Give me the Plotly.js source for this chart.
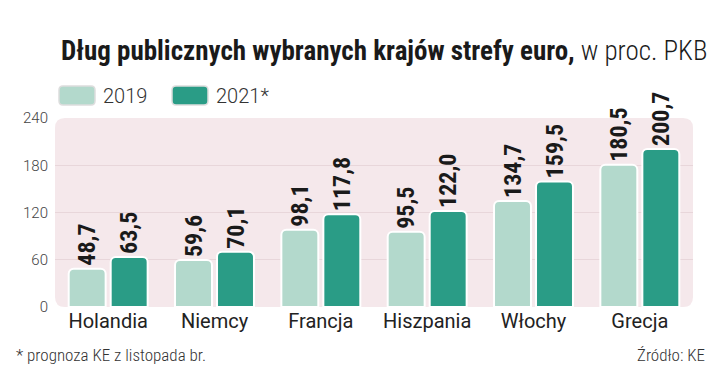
<!DOCTYPE html>
<html>
<head>
<meta charset="utf-8">
<script src="https://cdn.plot.ly/plotly-3.0.1.min.js"></script>
<style>html,body{margin:0;padding:0;background:#fff;}#chart{width:720px;height:383px;}</style>
</head>
<body>
<div id="chart"></div>
<script>
// ---- data ----
const countries = ["Holandia", "Niemcy", "Francja", "Hiszpania", "Włochy", "Grecja"];
const seriesNames = ["2019", "2021*"];
const debt2019 = [48.7, 59.6, 98.1, 95.5, 134.7, 180.5];
const debt2021 = [63.5, 70.1, 117.8, 122.0, 159.5, 200.7];
const yTicks = [0, 60, 120, 180, 240];
const titleBold = "Dług publicznych wybranych krajów strefy euro,";
const titleRest = " w proc. PKB";
const footNote = "* prognoza KE z listopada br.";
const sourceNote = "Źródło: KE";

// ---- layout geometry (pixels) ----
const W = 720, H = 383;
const L = 55, R = 27, T = 118, B = 76;
const PW = W - L - R, PH = H - T - B;
const px2x = p => (p - L) / PW;
const py2y = p => (H - B - p) / PH;

const colors = ["#b3d9cc", "#2a9c86"];
const FONT = "Roboto, 'Liberation Sans', sans-serif";
const COND = "'Roboto Condensed', 'Liberation Sans Narrow', 'DejaVu Sans Condensed', Roboto, sans-serif";

function fmt(v) { return v.toFixed(1).replace(".", ","); }

function roundRect(x0, y0, x1, y1, r) {
  const X = px2x, Y = py2y;
  return "M" + X(x0 + r) + "," + Y(y0) +
    " L" + X(x1 - r) + "," + Y(y0) +
    " Q" + X(x1) + "," + Y(y0) + " " + X(x1) + "," + Y(y0 + r) +
    " L" + X(x1) + "," + Y(y1 - r) +
    " Q" + X(x1) + "," + Y(y1) + " " + X(x1 - r) + "," + Y(y1) +
    " L" + X(x0 + r) + "," + Y(y1) +
    " Q" + X(x0) + "," + Y(y1) + " " + X(x0) + "," + Y(y1 - r) +
    " L" + X(x0) + "," + Y(y0 + r) +
    " Q" + X(x0) + "," + Y(y0) + " " + X(x0 + r) + "," + Y(y0) + " Z";
}

const series = [debt2019, debt2021];
const traces = series.map((vals, i) => ({
  type: "bar",
  name: seriesNames[i],
  x: countries,
  y: vals,
  text: vals.map(fmt),
  textposition: "outside",
  textangle: -90,
  constraintext: "none",
  cliponaxis: false,
  textfont: { family: COND, size: 24, color: "#1a1a1a", weight: "bold" },
  marker: { color: colors[i], cornerradius: 5, line: { color: "#ffffff", width: 2 } },
  hoverinfo: "skip"
}));

const shapes = [
  { type: "path", xref: "paper", yref: "paper", layer: "below",
    path: roundRect(L, T, W - R, H - B, 10),
    fillcolor: "#f5e8eb", line: { width: 0 } },
  { type: "path", xref: "paper", yref: "paper", layer: "above",
    path: roundRect(59, 86, 95, 105, 4), fillcolor: colors[0], line: { color: "#dddddd", width: 1.5 } },
  { type: "path", xref: "paper", yref: "paper", layer: "above",
    path: roundRect(172, 86, 208, 105, 4), fillcolor: colors[1], line: { color: "#dddddd", width: 1.5 } }
];

const annotations = [
  { xref: "paper", yref: "paper", x: px2x(101), y: py2y(96), xanchor: "left", yanchor: "middle",
    text: seriesNames[0], showarrow: false, font: { family: FONT, size: 20, color: "#333", weight: 300 } },
  { xref: "paper", yref: "paper", x: px2x(214), y: py2y(96), xanchor: "left", yanchor: "middle",
    text: seriesNames[1], showarrow: false, font: { family: FONT, size: 20, color: "#333", weight: 300 } },
  { xref: "paper", yref: "paper", x: px2x(14), y: py2y(355), xanchor: "left", yanchor: "middle",
    text: footNote, showarrow: false, font: { family: COND, size: 17, color: "#333", weight: 300 } },
  { xref: "paper", yref: "paper", x: px2x(707), y: py2y(355), xanchor: "right", yanchor: "middle",
    text: sourceNote, showarrow: false, font: { family: COND, size: 17, color: "#333", weight: 300 } }
];

const layout = {
  width: W, height: H,
  margin: { l: L, r: R, t: T, b: B, pad: 0 },
  paper_bgcolor: "#ffffff",
  plot_bgcolor: "rgba(0,0,0,0)",
  showlegend: false,
  barmode: "group",
  bargap: 0.21,
  bargroupgap: 0.12,
  title: {
    text: "<b>" + titleBold + "</b><span style=\"font-weight:300\">" + titleRest + "</span>",
    x: 61 / W, xanchor: "left", xref: "container",
    y: 1 - 51 / H, yanchor: "middle", yref: "container",
    font: { family: COND, size: 27, color: "#1a1a1a" }
  },
  xaxis: {
    type: "category",
    showgrid: false, zeroline: false, showline: false, ticks: "",
    tickfont: { family: FONT, size: 20, color: "#222" },
    fixedrange: true
  },
  yaxis: {
    range: [0, 240],
    tickvals: yTicks,
    ticktext: yTicks.map(String),
    showgrid: true, gridcolor: "#e8d6da", gridwidth: 1,
    zeroline: false, showline: false, ticks: "",
    ticklabelstandoff: 6,
    tickfont: { family: FONT, size: 15, color: "#444", weight: 300 },
    fixedrange: true
  },
  shapes: shapes,
  annotations: annotations,
  font: { family: FONT }
};

Plotly.newPlot("chart", traces, layout, { staticPlot: true, displayModeBar: false });
</script>
</body>
</html>
